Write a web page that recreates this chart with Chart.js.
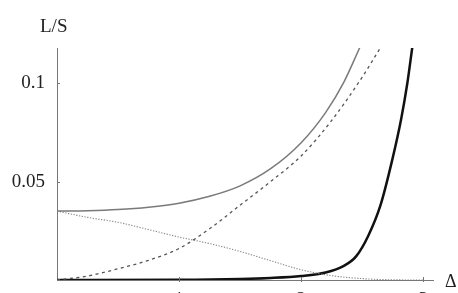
<!DOCTYPE html>
<html>
<head>
<meta charset="utf-8">
<script src="https://cdn.jsdelivr.net/npm/chart.js@4/dist/chart.umd.min.js"></script>
<style>
  html, body { margin: 0; padding: 0; background: #fff; }
  #wrap { width: 458px; height: 293px; position: relative; }
</style>
</head>
<body>
<div id="wrap"><canvas id="c" width="458" height="293"></canvas></div>
<script>
// ---- data ----
const xTicks = [1, 2, 3];
const yTicks = [0.05, 0.1];
const yLabel = "L/S";
const xLabel = "Δ";

// grey solid curve
const solidX = [0, 0.25, 0.5, 0.75, 1.0, 1.25, 1.5, 1.75, 2.0, 2.2, 2.35, 2.48];
const solidY = [0.035, 0.0352, 0.0358, 0.037, 0.039, 0.0425, 0.0478, 0.0565, 0.0697, 0.085, 0.1005, 0.118];

// dashed rising curve
const dashX = [0, 0.25, 0.5, 0.75, 1.0, 1.25, 1.5, 1.75, 2.0, 2.25, 2.5, 2.65];
const dashY = [0, 0.002, 0.0057, 0.010, 0.016, 0.026, 0.038, 0.050, 0.063, 0.081, 0.103, 0.118];

// dotted decreasing curve
const dotX = [0, 0.25, 0.5, 0.75, 1.0, 1.25, 1.5, 1.75, 2.0, 2.25, 2.5, 2.75, 3.0];
const dotY = [0.035, 0.0318, 0.0293, 0.0256, 0.0218, 0.0185, 0.0145, 0.0098, 0.0052, 0.0022, 0.0007, 0.0001, 0];

// thick dark curve
const thickX = [0, 1.0, 1.5, 1.75, 2.0, 2.2, 2.35, 2.45, 2.55, 2.65, 2.75, 2.82, 2.87, 2.91];
const thickY = [0, 0.0001, 0.0005, 0.001, 0.002, 0.0038, 0.0072, 0.012, 0.0225, 0.038, 0.062, 0.082, 0.100, 0.118];

const pts = (xs, ys) => xs.map((x, i) => ({ x: x, y: ys[i] }));

const FONT = "'Liberation Serif', 'DejaVu Serif', serif";

const decor = {
  id: 'decor',
  afterDraw(chart) {
    const ctx = chart.ctx;
    const xs = chart.scales.x, ys = chart.scales.y;
    ctx.save();
    ctx.strokeStyle = '#777';
    ctx.lineWidth = 1;
    yTicks.forEach(v => {
      const py = Math.round(ys.getPixelForValue(v)) + 0.5;
      ctx.beginPath();
      ctx.moveTo(xs.left, py);
      ctx.lineTo(xs.left + 3, py);
      ctx.stroke();
    });
    xTicks.forEach(v => {
      const px = Math.round(xs.getPixelForValue(v)) + 0.5;
      ctx.beginPath();
      ctx.moveTo(px, ys.bottom - 3);
      ctx.lineTo(px, ys.bottom + 2);
      ctx.stroke();
    });
    ctx.fillStyle = '#222';
    ctx.font = "19px " + FONT;
    ctx.textAlign = 'left';
    ctx.textBaseline = 'alphabetic';
    ctx.fillText(yLabel, 40, 32);
    ctx.font = "18px " + FONT;
    ctx.fillText(xLabel, 445, 287);
    ctx.restore();
  }
};

new Chart(document.getElementById('c'), {
  type: 'line',
  data: {
    datasets: [
      { data: pts(solidX, solidY), borderColor: '#7a7a7a', borderWidth: 1.5 },
      { data: pts(dashX, dashY), borderColor: '#555', borderWidth: 1.3, borderDash: [3, 3.5] },
      { data: pts(dotX, dotY), borderColor: '#888', borderWidth: 1.1, borderDash: [1.3, 1.5] },
      { data: pts(thickX, thickY), borderColor: '#111', borderWidth: 2.5 }
    ]
  },
  options: {
    responsive: false,
    animation: false,
    devicePixelRatio: 1,
    layout: { padding: { left: 0, right: 25, top: 48, bottom: 0 } },
    elements: {
      point: { radius: 0 },
      line: { tension: 0.4, cubicInterpolationMode: 'monotone', fill: false }
    },
    plugins: { legend: { display: false }, tooltip: { enabled: false } },
    scales: {
      x: {
        type: 'linear',
        min: 0, max: 3.08,
        grid: { display: false, drawTicks: false },
        border: { display: true, color: '#777', width: 1 },
        afterBuildTicks: s => { s.ticks = xTicks.map(v => ({ value: v })); },
        afterFit: s => { s.height = 13; s.paddingLeft = 0; s.paddingRight = 0; },
        ticks: { padding: 9, color: '#222', font: { family: FONT, size: 19 }, maxRotation: 0,
                 callback: v => String(v) }
      },
      y: {
        type: 'linear',
        min: 0, max: 0.1178,
        grid: { display: false, drawTicks: false },
        border: { display: true, color: '#777', width: 1 },
        afterBuildTicks: s => { s.ticks = yTicks.map(v => ({ value: v })); },
        afterFit: s => { s.width = 57; s.paddingTop = 0; s.paddingBottom = 0; },
        ticks: { padding: 12, color: '#222', font: { family: FONT, size: 19 },
                 callback: v => String(v) }
      }
    }
  },
  plugins: [decor]
});
</script>
</body>
</html>
